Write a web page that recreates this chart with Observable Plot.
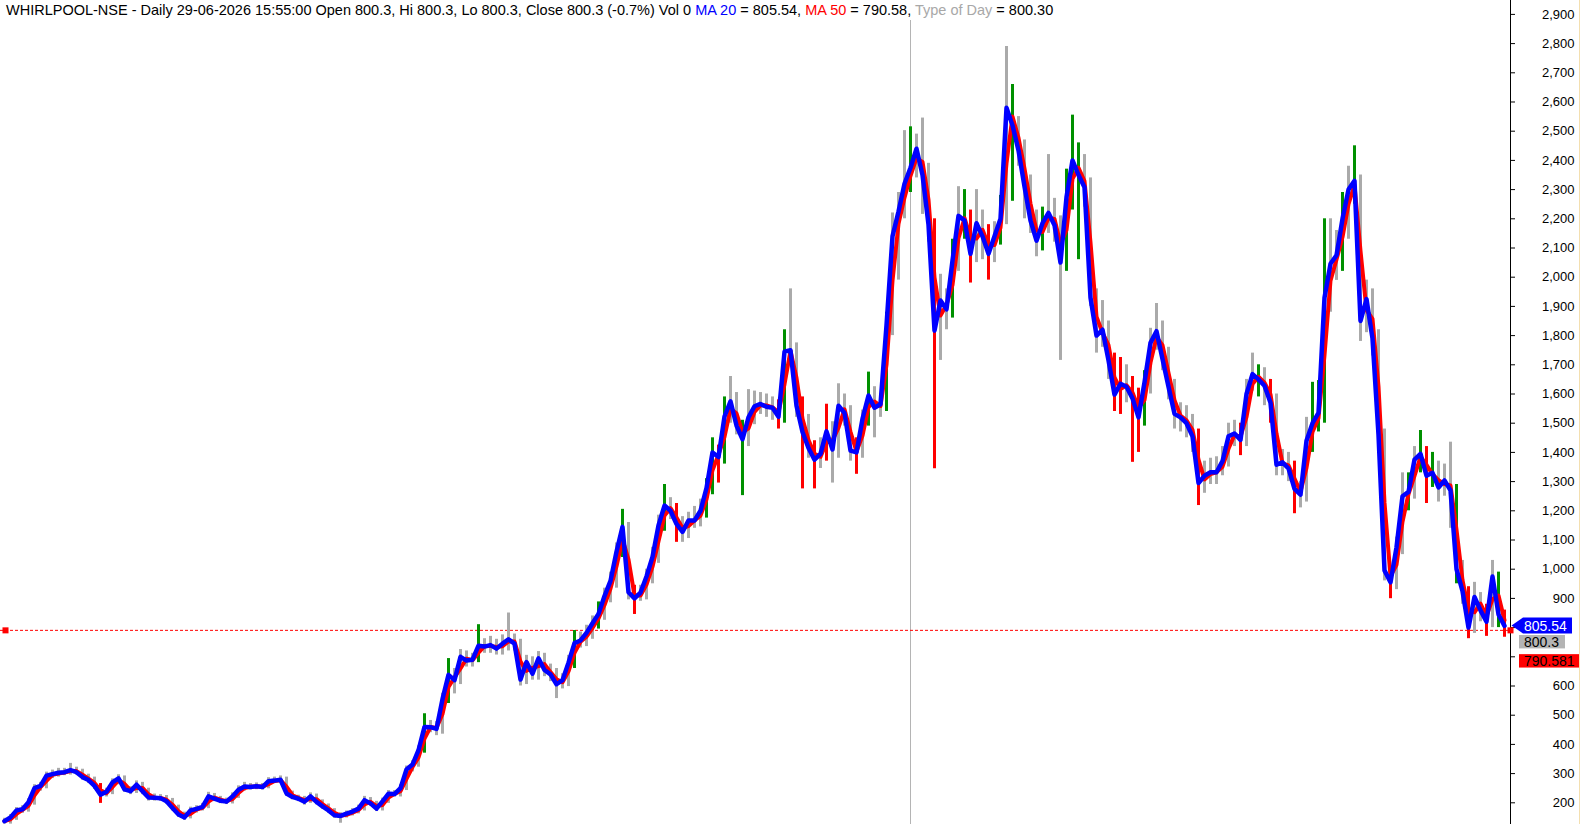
<!DOCTYPE html>
<html><head><meta charset="utf-8">
<script src="https://cdn.jsdelivr.net/npm/d3@7"></script>
<script src="https://cdn.jsdelivr.net/npm/@observablehq/plot@0.6"></script>
<style>
body{margin:0;background:#fff;}
#wrap{position:relative;width:1580px;height:824px;overflow:hidden;background:#fff;}
#wrap svg{position:absolute;left:0;top:0;}
#title{position:absolute;left:6px;top:2px;font:14.5px "Liberation Sans",Arial,sans-serif;line-height:16px;white-space:nowrap;color:#000;z-index:2;}
#edge{position:absolute;left:1579px;top:0;width:1px;height:824px;background:#f3dfb0;}
</style></head>
<body><div id="wrap"><div id="title"></div><div id="edge"></div></div>
<script>
// ---- header values ----
const symbol = "WHIRLPOOL-NSE";
const stamp = "Daily 29-06-2026 15:55:00";
const lastOpen = 800.3, lastHigh = 800.3, lastLow = 800.3, lastClose = 800.3;
const pctChange = "-0.7%";
const lastVol = 0;
const ma20Last = 805.54;
const ma50Last = 790.581;
const typeOfDay = 800.30;

// ---- series (one sample per bar group, left to right) ----
const ma20 = [137,150,174,178,202,250,258,293,298,303,
305,312,305,288,278,258,228,238,270,284,
246,240,262,240,218,217,216,205,182,160,
150,174,179,186,222,214,207,204,222,245,
256,254,257,254,274,276,279,232,220,214,
204,222,203,188,174,157,155,163,170,180,
209,198,180,205,231,230,250,314,331,380,
460,459,453,555,638,620,700,687,690,738,
735,740,728,745,760,745,622,682,642,695,
655,640,606,620,680,747,756,782,815,847,
908,960,1060,1145,921,900,920,975,1042,1150,
1218,1200,1155,1128,1167,1167,1200,1278,1400,1384,
1523,1575,1492,1445,1520,1558,1566,1556,1553,1522,
1745,1750,1560,1470,1415,1375,1395,1472,1410,1560,
1535,1406,1400,1515,1595,1553,1565,1835,2140,2225,
2320,2375,2440,2350,2180,1817,1920,1890,2057,2210,
2194,2080,2185,2140,2080,2140,2200,2580,2520,2434,
2310,2194,2125,2185,2220,2178,2050,2274,2400,2350,
2308,1930,1800,1820,1715,1598,1635,1625,1585,1520,
1640,1775,1815,1720,1625,1532,1520,1500,1455,1295,
1320,1332,1332,1370,1455,1465,1443,1600,1668,1650,
1628,1570,1358,1366,1345,1275,1255,1440,1500,1535,
1930,2046,2075,2200,2300,2330,1850,1925,1790,1460,
996,955,1075,1250,1265,1375,1395,1320,1330,1280,
1304,1270,1000,925,800,905,859,820,975,845,
806];

const high = [147,160,184,190,214,262,270,305,312,318,
318,335,322,315,298,288,266,250,282,296,
292,255,275,270,250,230,228,225,215,192,
168,185,190,198,236,232,222,216,234,258,
270,266,268,266,286,288,292,288,240,226,
222,234,230,210,196,180,166,172,180,192,
222,218,205,216,242,242,262,326,344,395,
505,482,478,575,694,660,725,720,712,810,
762,770,760,775,850,778,760,705,700,718,
712,675,660,642,705,790,785,808,840,888,
935,990,1090,1205,1160,945,945,1000,1075,1185,
1290,1245,1225,1180,1195,1215,1240,1310,1450,1425,
1590,1660,1605,1510,1615,1610,1605,1600,1590,1580,
1820,1960,1775,1590,1530,1440,1450,1565,1505,1635,
1600,1560,1450,1545,1675,1625,1600,1880,2220,2290,
2502,2515,2490,2545,2390,2200,2010,1960,2130,2310,
2300,2230,2300,2230,2180,2190,2280,2790,2660,2550,
2470,2350,2230,2240,2420,2270,2210,2370,2555,2460,
2420,2340,1960,1920,1850,1740,1725,1700,1660,1620,
1680,1825,1910,1850,1760,1650,1570,1560,1530,1480,
1370,1380,1385,1420,1500,1510,1500,1650,1740,1700,
1690,1650,1600,1410,1400,1370,1300,1520,1640,1646,
2200,2200,2160,2290,2380,2450,2350,1990,1960,1820,
1480,1010,1110,1330,1330,1420,1475,1420,1400,1370,
1360,1435,1290,1030,940,955,920,880,1030,990,
860];

const low = [127,127,140,164,168,192,240,248,283,288,
293,295,295,278,266,246,198,220,228,262,
236,228,232,228,206,206,205,195,172,150,
140,145,165,172,180,204,197,194,196,215,
240,244,245,244,248,266,268,222,210,204,
192,198,193,178,164,147,130,148,155,162,
172,188,170,172,198,220,220,242,306,322,
370,440,430,435,540,573,605,665,665,680,
712,712,706,706,720,720,600,605,620,620,
632,615,557,590,598,660,730,735,760,795,
825,885,935,1040,895,845,890,895,950,1020,
1130,1170,1092,1092,1105,1140,1145,1175,1255,1295,
1360,1500,1460,1252,1420,1495,1530,1520,1510,1480,
1500,1700,1520,1275,1380,1275,1345,1370,1295,1380,
1490,1370,1325,1380,1490,1450,1520,1540,1800,1990,
2200,2290,2340,2215,2120,1344,1715,1820,1860,2020,
2130,1980,2050,2060,1990,2050,2110,2180,2260,2380,
2200,2150,2070,2090,2150,2120,1715,2020,2230,2060,
2240,1900,1740,1760,1650,1540,1530,1570,1366,1400,
1490,1600,1750,1680,1580,1480,1470,1450,1400,1218,
1260,1290,1290,1320,1350,1420,1389,1420,1610,1590,
1560,1500,1320,1320,1300,1190,1210,1230,1400,1470,
1500,1880,1989,2020,2130,2250,1780,1810,1730,1400,
960,899,930,1050,1200,1240,1330,1225,1280,1230,
1250,1140,950,880,762,780,820,770,800,800,
767];

// bar type per sample: g = up day, r = down day, n = inside/outside day
const dayTypes =
  "nnnnnnnnnn" + "nnnnnnrnnn" + "nnnnnnnnnn" + "nnnnnnnnnn" + "nnnnnnnnnn" +
  "nnnnnnnnnn" + "nnnnnnnnnn" + "gnnngnnnng" + "nnnnnnnnnn" + "nnnnngnnng" +
  "nnngnrnnnn" + "gnrnnnnggr" + "gnngnnnnnr" + "gnnrnrnrnn" + "nnrngnngnn" +
  "ngnnnrnngn" + "grnnrngngn" + "nnngnnnggg" + "nnnnnrrnrr" + "gnnnnnnnnr" +
  "nnnnnnrnng" + "nrnnnrnngg" + "gnngngnnnn" + "nrnngngrgn" + "nngnrnnrng" +
  "r";

const yTicks = d3.range(200, 3000, 100);
const hiddenTickLabels = [700, 800];   // covered by the price labels on the axis
const cursorBar = 151;          // bar index of the vertical cursor line
const FONT = '"Liberation Sans", Arial, sans-serif';
const typeColor = {g: "#009000", r: "#ff0000", n: "#aaaaaa"};

const rows = ma20.map((v, i) => ({i, ma20: v, hi: high[i], lo: low[i], type: dayTypes[i] || "n"}));

// title
const fmt = (v) => v.toFixed(2);
document.getElementById("title").innerHTML =
  `${symbol} - ${stamp} Open ${lastOpen}, Hi ${lastHigh}, Lo ${lastLow}, Close ${lastClose} (${pctChange}) Vol ${lastVol} ` +
  `<span style="color:#0000ff">MA 20</span> = ${fmt(ma20Last)}, ` +
  `<span style="color:#ff0000">MA 50</span> = ${fmt(ma50Last)}, ` +
  `<span style="color:#a8a8a8">Type of Day</span> = ${fmt(typeOfDay)}`;

function priceLabels(index, scales, values, dims) {
  const g = d3.create("svg:g").attr("font-family", FONT).attr("font-size", 14).attr("text-anchor", "start");
  const ax = dims.width - dims.marginRight;
  g.append("line").attr("x1", ax + 0.5).attr("x2", ax + 0.5).attr("y1", 0).attr("y2", dims.height).attr("stroke", "#000");
  const yb = scales.y(ma20Last);
  g.append("path").attr("d", `M${ax + 1.5},${yb} L${ax + 13},${yb - 8} H${ax + 62} V${yb + 8} H${ax + 13} Z`).attr("fill", "#0000ff");
  g.append("text").attr("x", ax + 14).attr("y", yb).attr("dy", "0.36em").attr("fill", "#fff").text(fmt(ma20Last));
  const yg = scales.y(lastClose) + 14.7;
  g.append("rect").attr("x", ax + 9).attr("y", yg - 6.7).attr("width", 46).attr("height", 13.4).attr("fill", "#b4b4b4");
  g.append("text").attr("x", ax + 14).attr("y", yg).attr("dy", "0.36em").attr("fill", "#000").text(String(lastClose));
  const yr = scales.y(ma50Last) + 31;
  g.append("rect").attr("x", ax + 9).attr("y", yr - 6.7).attr("width", 60).attr("height", 13.4).attr("fill", "#ff0000");
  g.append("text").attr("x", ax + 14).attr("y", yr).attr("dy", "0.36em").attr("fill", "#000").text(ma50Last.toFixed(3));
  return g.node();
}

const tickFmt = (v) => hiddenTickLabels.includes(v) ? "" : d3.format(",")(v);

const chart = Plot.plot({
  width: 1580,
  height: 824,
  marginLeft: 0,
  marginRight: 70,
  marginTop: 0,
  marginBottom: 0,
  style: {fontFamily: FONT, fontSize: "13px", background: "transparent", overflow: "visible"},
  x: {domain: [-0.6667, 251.0], axis: null},
  y: {domain: [125.7, 2947.6], axis: null},
  marks: [
    Plot.ruleX([cursorBar], {stroke: "#b4b4b4", strokeWidth: 1, insetTop: 20}),
    Plot.ruleY([ma50Last], {stroke: "#ff0000", strokeWidth: 1, strokeDasharray: "3,2"}),
    Plot.ruleX(rows, {x: "i", y1: "lo", y2: "hi", stroke: (d) => typeColor[d.type], strokeWidth: 3}),
    Plot.lineY(rows, Plot.windowY({k: 2, anchor: "end"}, {x: "i", y: "ma20", stroke: "#ff0000", strokeWidth: 4})),
    Plot.lineY(rows, {x: "i", y: "ma20", stroke: "#0000ff", strokeWidth: 4.5}),
    Plot.axisY(yTicks, {anchor: "right", tickSize: 4, tickPadding: 60, textAnchor: "end", tickFormat: tickFmt, fontSize: 13, label: null, stroke: "#000", fill: "#000"}),
    Plot.dot([ma50Last], {y: (d) => d, frameAnchor: "left", dx: 5, symbol: "square", r: 3.4, fill: "#ff0000"}),
    priceLabels,
    Plot.dot([ma50Last], {y: (d) => d, frameAnchor: "right", symbol: "square", r: 3.4, fill: "#ff0000"})
  ]
});
document.getElementById("wrap").appendChild(chart);
</script>
</body></html>
